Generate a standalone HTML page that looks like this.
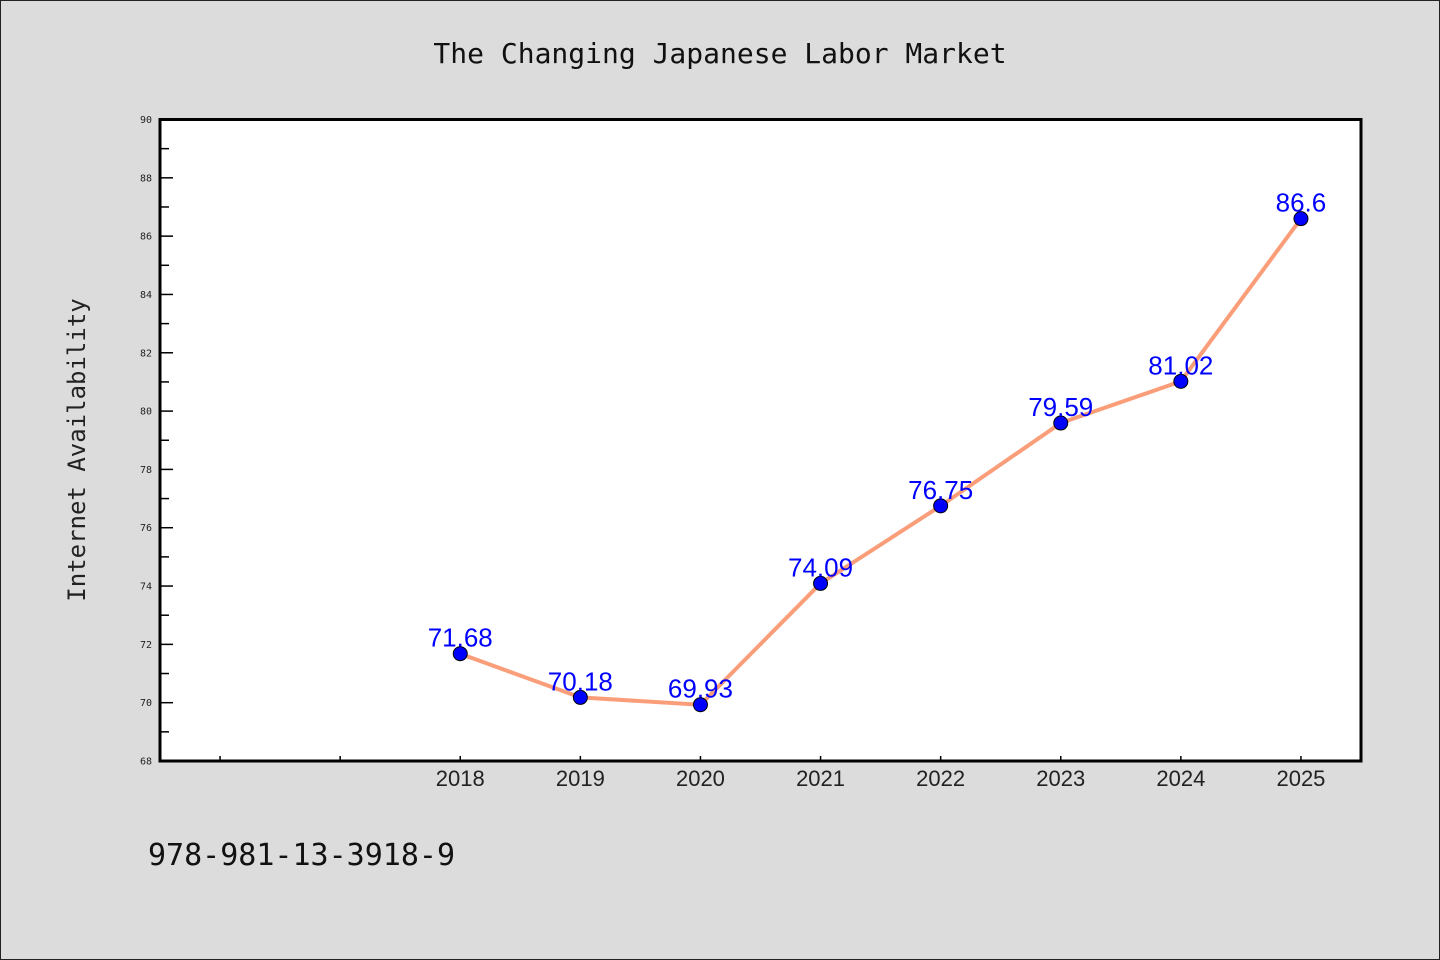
<!DOCTYPE html>
<html><head><meta charset="utf-8"><style>
body{margin:0;background:#dcdcdc;}
svg{display:block;font-family:"DejaVu Sans Mono","Liberation Mono",monospace;}
</style></head><body>
<svg id="chart" width="1440" height="960">
<rect x="0.5" y="0.5" width="1439" height="959" fill="#dcdcdc" stroke="#222"/>
<text x="720" y="63" text-anchor="middle" font-size="28" fill="#111">The Changing Japanese Labor Market</text>
<rect x="160" y="119.5" width="1201" height="641.5" fill="#fff"/>
<g id="axes"></g>
<g id="series"></g>
<rect x="160" y="119.5" width="1201" height="641.5" fill="none" stroke="#000" stroke-width="3"/>
<text transform="translate(85,450) rotate(-90)" text-anchor="middle" font-size="24" fill="#222">Internet Availability</text>
<text x="148" y="865" font-size="30" fill="#111">978-981-13-3918-9</text>
</svg>
<script>
const categories=["2018","2019","2020","2021","2022","2023","2024","2025"];
const values=[71.68,70.18,69.93,74.09,76.75,79.59,81.02,86.6];
const valueLabels=["71.68","70.18","69.93","74.09","76.75","79.59","81.02","86.6"];
const yTicks=[68,70,72,74,76,78,80,82,84,86,88,90];
const yMin=68,yMax=90;
const L=160,R=1361,T=119.5,B=761;
const NS="http://www.w3.org/2000/svg";
function xs(i){return L+(i+2.5)*(R-L)/10;}
function ys(v){return B-(v-yMin)/(yMax-yMin)*(B-T);}
function mk(t,a,p){const e=document.createElementNS(NS,t);for(const k in a)e.setAttribute(k,a[k]);p.appendChild(e);return e;}
const ax=document.getElementById('axes'),se=document.getElementById('series');
yTicks.forEach((v,k)=>{
  const y=ys(v);
  const t=mk('line',{x1:L,x2:L+13,y1:y,y2:y,stroke:'#000','stroke-width':1.5},ax);
  
  
  const lb=mk('text',{x:152,y:y+3.5,'text-anchor':'end','font-size':10,fill:'#222'},ax);
  lb.textContent=v;
  
  
  if(k<yTicks.length-1){
    const ym=ys(v+(yTicks[1]-yTicks[0])/2);
    const m=mk('line',{x1:L,x2:L+9,y1:ym,y2:ym,stroke:'#000','stroke-width':1.5},ax);
    
    
  }
});
for(let i=-2;i<categories.length;i++){
  const x=xs(i);
  const t=mk('line',{x1:x,x2:x,y1:B,y2:B-5,stroke:'#000','stroke-width':1.5},ax);
  
  
  if(i>=0){
    const lb=mk('text',{x:x,y:B+25,'text-anchor':'middle','font-size':22,fill:'#222','font-family':'Liberation Sans, sans-serif'},ax);
    lb.textContent=categories[i];
    
    
  }
}
const pts=values.map((v,i)=>xs(i)+','+ys(v)).join(' ');
const line=mk('polyline',{points:pts,fill:'none',stroke:'#fa9e7a','stroke-width':4,'stroke-linejoin':'round'},se);


values.forEach((v,i)=>{
  const c=mk('circle',{cx:xs(i),cy:ys(v),r:7,fill:'#0000ff',stroke:'#000','stroke-width':1},se);
  
  
  const lb=mk('text',{x:xs(i),y:ys(v)-7,'text-anchor':'middle','font-size':26,fill:'#0000ff','font-family':'Liberation Sans, sans-serif'},se);
  lb.textContent=valueLabels[i];
  
  
});
</script>
</body></html>
